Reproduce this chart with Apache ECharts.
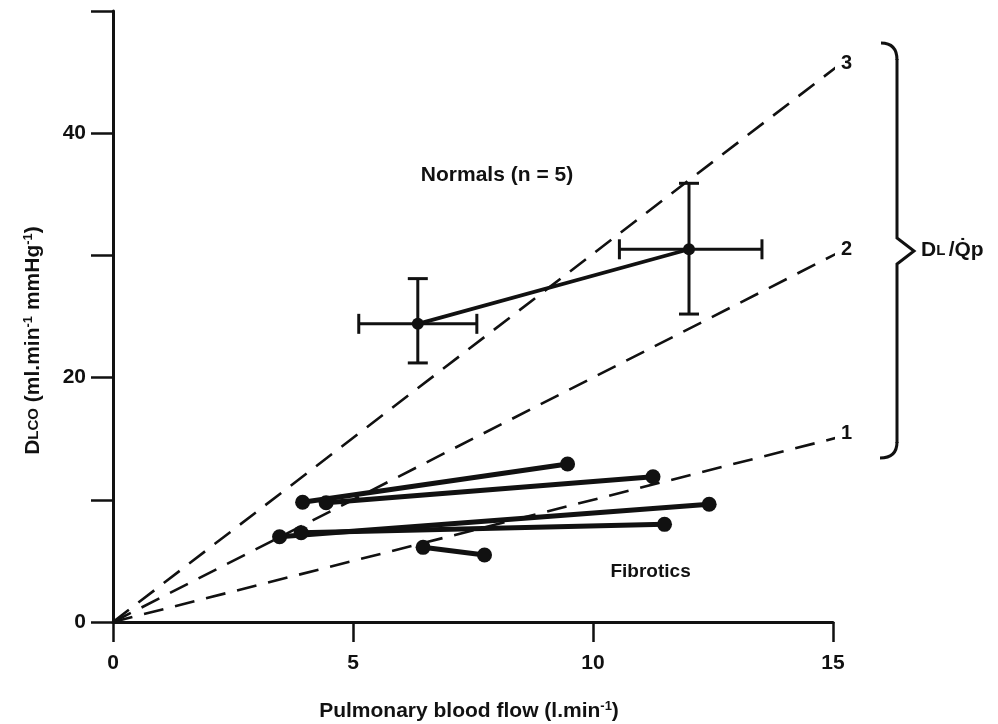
<!DOCTYPE html>
<html>
<head>
<meta charset="utf-8">
<script src="https://cdn.jsdelivr.net/npm/echarts@6/dist/echarts.min.js"></script>
<style>
  html, body { margin: 0; padding: 0; background: #fff; }
  #chart { width: 998px; height: 724px; }
</style>
</head>
<body>
<div id="chart"></div>
<script>
// DL/Qp ratio lines (from origin to the right edge)
var ratioNames = ['1', '2', '3'];
var ratioEnds = [[15.1, 15.1], [15.1, 30.2], [15.1, 45.5]];

// normals: mean points with error bars [x, y, xlo, xhi, ylo, yhi]
var normalPoints = [
    [6.35, 24.4, 5.12, 7.58, 21.2, 28.1],
    [12.0, 30.5, 10.55, 13.52, 25.2, 35.9]
];

// fibrotics: rest -> exercise pairs
var fibroticStart = [[3.95, 9.8], [4.44, 9.76], [3.47, 6.98], [3.92, 7.31], [6.46, 6.11]];
var fibroticEnd = [[9.47, 12.93], [11.25, 11.89], [12.42, 9.63], [11.49, 7.99], [7.74, 5.48]];

var yTickLabels = ['0', '20', '40'];

var chart = echarts.init(document.getElementById('chart'));
var font = 'Liberation Sans, Arial, sans-serif';
var ink = '#111';

var series = [];

// ratio lines, dashed
ratioEnds.forEach(function (end, i) {
    series.push({
        type: 'line',
        name: ratioNames[i],
        data: [[0, 0], end],
        symbol: 'none',
        silent: true,
        z: 1,
        lineStyle: { color: ink, width: 2.6, type: [20, 12] },
        endLabel: {
            show: true,
            formatter: ratioNames[i],
            color: ink,
            fontFamily: font,
            fontWeight: 'bold',
            fontSize: 20,
            distance: 2,
            offset: [4, -5]
        }
    });
});

// normals line
series.push({
    type: 'line',
    data: normalPoints.map(function (p) { return [p[0], p[1]]; }),
    symbol: 'circle',
    symbolSize: 12,
    itemStyle: { color: ink },
    lineStyle: { color: ink, width: 3.8 },
    z: 3
});

// normals error bars
series.push({
    type: 'custom',
    data: normalPoints,
    z: 3,
    renderItem: function (params, api) {
        var c = api.coord([api.value(0), api.value(1)]);
        var xl = api.coord([api.value(2), api.value(1)]);
        var xh = api.coord([api.value(3), api.value(1)]);
        var yl = api.coord([api.value(0), api.value(4)]);
        var yh = api.coord([api.value(0), api.value(5)]);
        var cap = 10;
        var st = { stroke: ink, lineWidth: 3 };
        var seg = function (x1, y1, x2, y2) {
            return { type: 'line', shape: { x1: x1, y1: y1, x2: x2, y2: y2 }, style: st };
        };
        return {
            type: 'group',
            children: [
                seg(xl[0], c[1], xh[0], c[1]),
                seg(xl[0], c[1] - cap, xl[0], c[1] + cap),
                seg(xh[0], c[1] - cap, xh[0], c[1] + cap),
                seg(c[0], yl[1], c[0], yh[1]),
                seg(c[0] - cap, yl[1], c[0] + cap, yl[1]),
                seg(c[0] - cap, yh[1], c[0] + cap, yh[1])
            ]
        };
    }
});

// fibrotics
fibroticStart.forEach(function (s, i) {
    series.push({
        type: 'line',
        data: [s, fibroticEnd[i]],
        symbol: 'circle',
        symbolSize: 15,
        itemStyle: { color: ink },
        lineStyle: { color: ink, width: 5 },
        z: 4
    });
});

// group annotations
series.push({
    type: 'scatter',
    symbolSize: 0,
    silent: true,
    itemStyle: { opacity: 1 },
    data: [
        { value: [8.0, 36.6], name: 'Normals (n = 5)', label: { fontSize: 21 } },
        { value: [11.2, 4.1], name: 'Fibrotics' }
    ],
    label: {
        show: true,
        position: 'inside',
        formatter: '{b}',
        color: ink,
        fontFamily: font,
        fontSize: 19,
        fontWeight: 'bold'
    }
});

var braceStyle = { fill: 'none', stroke: ink, lineWidth: 3 };

chart.setOption({
    animation: false,
    backgroundColor: '#fff',
    grid: { left: 113, right: 165, top: 11, bottom: 102, outerBoundsMode: 'none' },
    xAxis: {
        type: 'value',
        min: 0,
        max: 15,
        interval: 5,
        name: 'Pulmonary blood flow (l.min{sup|-1})',
        nameLocation: 'middle',
        nameGap: 78,
        nameTextStyle: {
            color: ink,
            fontFamily: font,
            fontSize: 21,
            fontWeight: 'bold',
            padding: [0, 8, 0, 0],
            rich: {
                sup: { fontSize: 13, fontWeight: 'bold', fontFamily: font, color: ink, verticalAlign: 'top', padding: [0, 0, 10, 0] }
            }
        },
        splitLine: { show: false },
        axisLine: { onZero: false, lineStyle: { color: ink, width: 3 } },
        axisTick: { length: 20, lineStyle: { color: ink, width: 2.5 } },
        axisLabel: {
            margin: 31,
            color: ink,
            fontFamily: font,
            fontSize: 21,
            fontWeight: 'bold'
        }
    },
    yAxis: {
        type: 'value',
        min: 0,
        max: 50,
        interval: 10,
        name: '{b|D}{s|LCO} (ml.min{sup|-1} mmHg{sup|-1})',
        nameLocation: 'middle',
        nameGap: 68,
        nameRotate: 90,
        nameTextStyle: {
            color: ink,
            fontFamily: font,
            fontSize: 21,
            fontWeight: 'bold',
            padding: [0, 48, 0, 0],
            rich: {
                b: { fontSize: 21, fontWeight: 'bold', fontFamily: font, color: ink },
                s: { fontSize: 15, fontWeight: 'bold', fontFamily: font, color: ink },
                sup: { fontSize: 13, fontWeight: 'bold', fontFamily: font, color: ink, verticalAlign: 'top', padding: [0, 0, 10, 0] }
            }
        },
        splitLine: { show: false },
        axisLine: { onZero: false, lineStyle: { color: ink, width: 3 } },
        axisTick: { length: 22, lineStyle: { color: ink, width: 2.5 } },
        axisLabel: {
            margin: 27,
            color: ink,
            fontFamily: font,
            fontSize: 21,
            fontWeight: 'bold',
            formatter: function (v) {
                var t = String(v);
                return yTickLabels.indexOf(t) >= 0 ? t : '';
            }
        }
    },
    graphic: [
        // curly brace grouping the ratio lines
        {
            type: 'bezierCurve',
            shape: { x1: 881, y1: 43, x2: 897, y2: 60, cpx1: 897, cpy1: 43 },
            style: braceStyle
        },
        {
            type: 'polyline',
            shape: { points: [[897, 59], [897, 238], [914, 251], [897, 264], [897, 443]] },
            style: braceStyle
        },
        {
            type: 'bezierCurve',
            shape: { x1: 897, y1: 442, x2: 880, y2: 458, cpx1: 897, cpy1: 458 },
            style: braceStyle
        },
        {
            type: 'text',
            left: 921,
            top: 240,
            style: {
                text: '{b|D}{s|L} {b|/Q\u0307p}',
                fill: ink,
                rich: {
                    b: { fontSize: 21, fontWeight: 'bold', fontFamily: font, fill: ink },
                    s: { fontSize: 15, fontWeight: 'bold', fontFamily: font, fill: ink }
                }
            }
        }
    ],
    series: series
});
</script>
</body>
</html>
